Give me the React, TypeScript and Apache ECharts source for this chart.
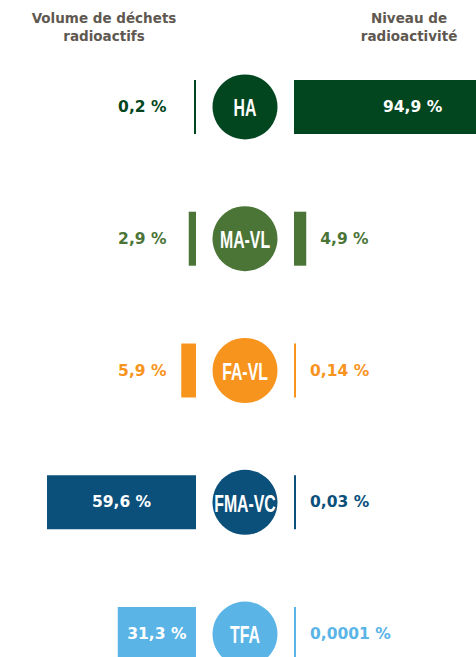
import React, { useEffect, useRef } from "react";
import * as echarts from "echarts";

const categories = ["HA", "MA-VL", "FA-VL", "FMA-VC", "TFA"];
const volumeShare = [0.2, 2.9, 5.9, 59.6, 31.3];
const activityShare = [94.9, 4.9, 0.14, 0.03, 0.0001];
const palette = ["#024620", "#4b7437", "#f7941d", "#0b4f7b", "#5ab4e6"];
const headerLeft = "Volume de déchets\nradioactifs";
const headerRight = "Niveau de\nradioactivité";

const INSIDE_MIN = 20;
const LEFT_LABEL_X = 11.6;
const VALUE_FONT = "'DejaVu Sans', sans-serif";
const CIRCLE_FONT = "'Liberation Sans', Arial, sans-serif";

const fmt = (v: number) => String(v).replace(".", ",") + " %";

export default function App() {
  const ref = useRef<HTMLDivElement>(null);
  useEffect(() => {
    if (!ref.current) return;
    const chart = echarts.init(ref.current, null, { renderer: "svg" });
    const valueLabel = {
      fontFamily: VALUE_FONT,
      fontWeight: "bold" as const,
      fontSize: 15.5,
    };
    const headerStyle = {
      textAlign: "center",
      textVerticalAlign: "top",
      fontFamily: VALUE_FONT,
      fontWeight: "bold",
      fontSize: 13.5,
      lineHeight: 18,
      fill: "#5f5851",
    };
    const option: any = {
      animation: false,
      grid: [
        { left: 0, top: 41, width: 196, height: 659 },
        { left: 294, top: 41, width: 250, height: 659 },
        { left: 212, top: 41, width: 66, height: 659 },
      ],
      xAxis: [
        { gridIndex: 0, type: "value", min: 0, max: 78.4, inverse: true, show: false },
        { gridIndex: 1, type: "value", min: 0, max: 100, show: false },
        { gridIndex: 2, type: "value", min: 0, max: 1, show: false },
      ],
      yAxis: [0, 1, 2].map((g) => ({
        gridIndex: g,
        type: "category",
        data: categories,
        inverse: true,
        show: false,
      })),
      graphic: [
        { type: "text", x: 104, y: 9, style: { text: headerLeft, ...headerStyle } },
        { type: "text", x: 409, y: 9, style: { text: headerRight, ...headerStyle } },
      ],
      series: [
        {
          type: "bar",
          xAxisIndex: 0,
          yAxisIndex: 0,
          barWidth: 54,
          barMinHeight: 2,
          data: volumeShare.map((v, i) => ({
            value: v,
            itemStyle: { color: palette[i] },
            label: { show: v > INSIDE_MIN, formatter: fmt(v) },
          })),
          label: { position: "inside", color: "#ffffff", ...valueLabel },
        },
        {
          type: "scatter",
          xAxisIndex: 0,
          yAxisIndex: 0,
          symbolSize: 1,
          itemStyle: { color: "rgba(0,0,0,0)", opacity: 1 },
          data: categories
            .map((c, i) => ({
              value: [LEFT_LABEL_X, c],
              label: { formatter: fmt(volumeShare[i]), color: palette[i] },
              keep: volumeShare[i] <= INSIDE_MIN,
            }))
            .filter((d) => d.keep)
            .map(({ keep, ...d }) => d),
          label: { show: true, position: "left", distance: 0, ...valueLabel },
        },
        {
          type: "bar",
          xAxisIndex: 1,
          yAxisIndex: 1,
          barWidth: 54,
          barMinHeight: 2,
          data: activityShare.map((v, i) => ({
            value: v,
            itemStyle: { color: palette[i] },
            label:
              v > INSIDE_MIN
                ? { position: "inside", color: "#ffffff", formatter: fmt(v) }
                : { position: "right", distance: 14, color: palette[i], formatter: fmt(v) },
          })),
          label: { show: true, ...valueLabel },
        },
        {
          type: "custom",
          xAxisIndex: 2,
          yAxisIndex: 2,
          data: categories.map((c, i) => [0.5, i]),
          renderItem: (params: any, api: any) => {
            const i = params.dataIndex;
            const p = api.coord([api.value(0), categories[i]]);
            return {
              type: "group",
              children: [
                {
                  type: "circle",
                  shape: { cx: p[0], cy: p[1], r: 32.5 },
                  style: { fill: palette[i] },
                },
                {
                  type: "text",
                  x: p[0],
                  y: p[1] + 1,
                  scaleX: 0.66,
                  style: {
                    text: categories[i],
                    textAlign: "center",
                    textVerticalAlign: "middle",
                    fontFamily: CIRCLE_FONT,
                    fontWeight: "bold",
                    fontSize: 24,
                    fill: "#ffffff",
                  },
                },
              ],
            };
          },
        },
      ],
    };
    chart.setOption(option);
    return () => chart.dispose();
  }, []);
  return (
    <div style={{ position: "fixed", left: 0, top: 0, right: 0, bottom: 0, overflow: "hidden", background: "#ffffff" }}>
      <div ref={ref} style={{ position: "absolute", left: 0, top: 0, width: 560, height: 720 }} />
    </div>
  );
}
